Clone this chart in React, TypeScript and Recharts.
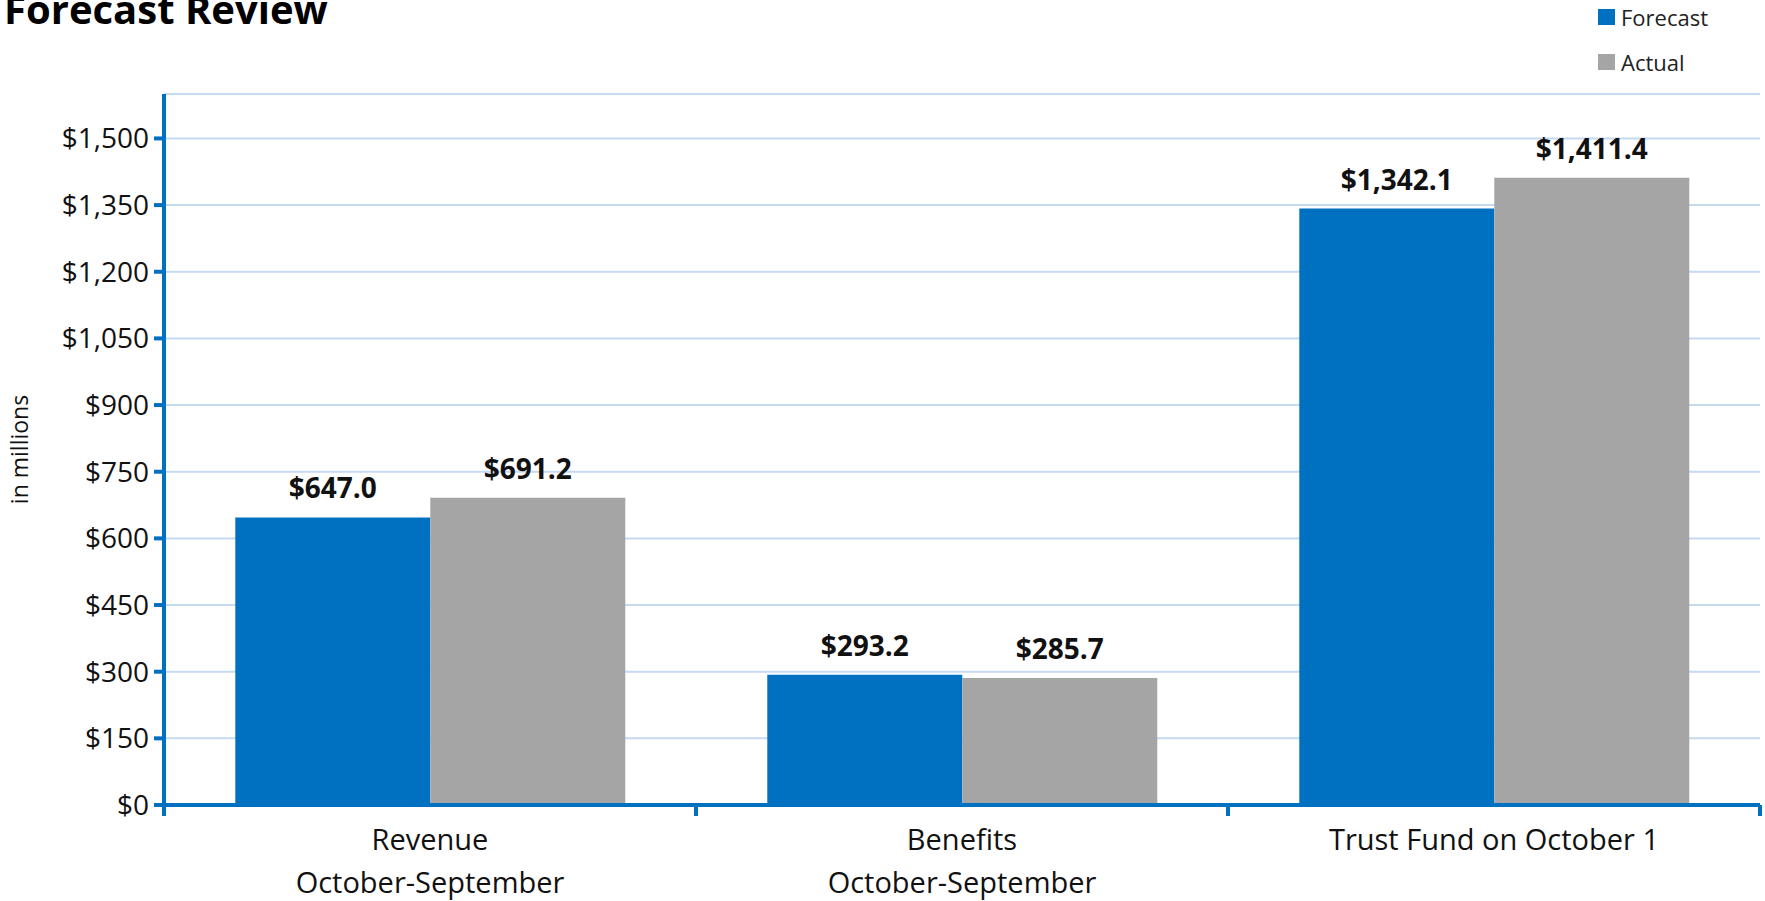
import React from 'react'
import { Bar, BarChart, CartesianGrid, LabelList, Legend, XAxis, YAxis } from 'recharts'

const categories = ['Revenue\nOctober-September', 'Benefits\nOctober-September', 'Trust Fund on October 1']
const seriesNames = ['Forecast', 'Actual']
const forecastValues = [647.0, 293.2, 1342.1]
const actualValues = [691.2, 285.7, 1411.4]
const yTicks = [0, 150, 300, 450, 600, 750, 900, 1050, 1200, 1350, 1500]
const yMax = 1600

const data = categories.map((name, i) => ({
  name,
  forecast: forecastValues[i],
  actual: actualValues[i],
}))

const BLUE = '#0070C0'
const GREY = '#A5A5A5'
const FONT = '"Open Sans", sans-serif'

const money = (v: number) => '$' + v.toLocaleString('en-US')
const moneyLabel = (v: any) =>
  '$' + Number(v).toLocaleString('en-US', { minimumFractionDigits: 1, maximumFractionDigits: 1 })

// category labels + the little tick marks between categories (excel style)
const CategoryTick = (props: any) => {
  const { x, y, payload, index, visibleTicksCount } = props
  const half = payload.offset ?? 0
  const lines = String(payload.value).split('\n')
  return (
    <g>
      <line x1={x - half} x2={x - half} y1={y} y2={y + 11} stroke={BLUE} strokeWidth={4} />
      {index === visibleTicksCount - 1 && (
        <line x1={x + half} x2={x + half} y1={y} y2={y + 11} stroke={BLUE} strokeWidth={4} />
      )}
      <text x={x} y={y} textAnchor="middle" fontFamily={FONT} fontSize={29} fill="#111">
        {lines.map((l, i) => (
          <tspan key={i} x={x} dy={i === 0 ? 45 : 43}>
            {l}
          </tspan>
        ))}
      </text>
    </g>
  )
}

// keep legend in series order (recharts sorts by name otherwise)
const LegendBox = ({ payload }: any) => {
  const items = seriesNames
    .map((n) => (payload || []).find((p: any) => p.value === n))
    .filter(Boolean)
  return (
    <div style={{ fontFamily: FONT, fontSize: 22, color: '#222' }}>
      {items.map((p: any) => (
        <div key={p.value} style={{ display: 'flex', alignItems: 'center', height: 45 }}>
          <span style={{ width: 17, height: 16, background: p.color, marginRight: 6, display: 'inline-block' }} />
          <span>{p.value}</span>
        </div>
      ))}
    </div>
  )
}

const App = () => {
  return (
    <div style={{ position: 'absolute', left: 0, top: 0, width: 1765, height: 901, background: '#fff' }}>
      <div
        style={{
          position: 'absolute',
          left: 4,
          top: -11,
          fontFamily: FONT,
          fontWeight: 700,
          fontSize: 40,
          lineHeight: '40px',
          color: '#000',
          zIndex: 2,
        }}
      >
        Forecast Review
      </div>
      <BarChart
        width={1765}
        height={901}
        data={data}
        margin={{ top: 94, right: 5, bottom: 0, left: 0 }}
        barCategoryGap="13.4%"
        barGap={0}
      >
        <CartesianGrid vertical={false} stroke="#C5D9F1" strokeWidth={2} />
        <XAxis
          dataKey="name"
          interval={0}
          height={96}
          tickSize={0}
          tickMargin={0}
          tickLine={false}
          axisLine={{ stroke: BLUE, strokeWidth: 4 }}
          tick={<CategoryTick />}
        />
        <XAxis
          xAxisId="top"
          orientation="top"
          dataKey="name"
          height={0}
          tick={false}
          tickLine={false}
          axisLine={{ stroke: BLUE, strokeWidth: 4 }}
        />
        <YAxis
          width={164}
          domain={[0, yMax]}
          ticks={yTicks}
          interval={0}
          tickFormatter={money}
          tickSize={10}
          tickMargin={5}
          tickLine={{ stroke: BLUE, strokeWidth: 4 }}
          axisLine={{ stroke: BLUE, strokeWidth: 4 }}
          tick={{ fontFamily: FONT, fontSize: 28, fill: '#111' }}
          label={{
            value: 'in millions',
            angle: -90,
            position: 'center',
            dx: -62,
            style: { fontFamily: FONT, fontSize: 23, fill: '#111' },
          }}
        />
        <YAxis
          yAxisId="right"
          orientation="right"
          width={0}
          domain={[0, yMax]}
          tick={false}
          tickLine={false}
          axisLine={{ stroke: BLUE, strokeWidth: 4 }}
        />
        <Legend
          layout="vertical"
          align="center"
          verticalAlign="middle"
          wrapperStyle={{ left: 1598, top: -6, width: 160 }}
          content={<LegendBox />}
        />
        <Bar dataKey="forecast" name="Forecast" fill={BLUE} isAnimationActive={false}>
          <LabelList
            dataKey="forecast"
            position="top"
            offset={19}
            formatter={moneyLabel}
            style={{ fontFamily: FONT, fontSize: 28, fontWeight: 700, fill: '#111' }}
          />
        </Bar>
        <Bar dataKey="actual" name="Actual" fill={GREY} isAnimationActive={false}>
          <LabelList
            dataKey="actual"
            position="top"
            offset={19}
            formatter={moneyLabel}
            style={{ fontFamily: FONT, fontSize: 28, fontWeight: 700, fill: '#111' }}
          />
        </Bar>
      </BarChart>
    </div>
  )
}

export default App
